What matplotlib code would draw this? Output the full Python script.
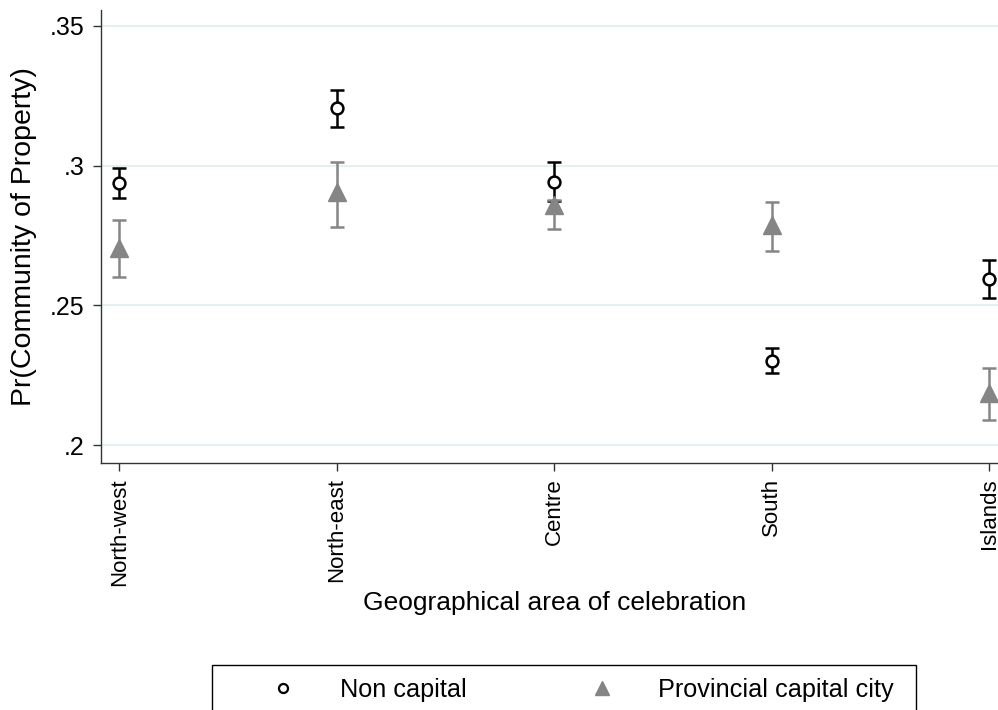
import matplotlib
matplotlib.use("Agg")
import matplotlib.pyplot as plt
from matplotlib.patches import Rectangle
import numpy as np

# Valeurs
areas = ["North-west", "North-east", "Centre", "South", "Islands"]
non_cap = [0.2939, 0.3207, 0.2943, 0.2299, 0.2593]
non_cap_lo = [0.2886, 0.3139, 0.2874, 0.2257, 0.2525]
non_cap_hi = [0.2993, 0.3271, 0.3012, 0.2346, 0.2661]
prov_cap = [0.2704, 0.2905, 0.2860, 0.2786, 0.2186]
prov_cap_lo = [0.2600, 0.2782, 0.2775, 0.2696, 0.2089]
prov_cap_hi = [0.2806, 0.3012, 0.2878, 0.2871, 0.2275]
yticks = [0.2, 0.25, 0.3, 0.35]
ytick_labels = [".2", ".25", ".3", ".35"]

plt.rcParams["font.family"] = ["Liberation Sans", "DejaVu Sans"]

W, H = 998, 710
fig = plt.figure(figsize=(W / 100, H / 100), dpi=100)
ax = fig.add_axes([0.1012, 0.3479, 0.8988, 0.638])

x = np.arange(1, len(areas) + 1)
black = "black"
gray = "#858585"

nc = np.array(non_cap)
pc = np.array(prov_cap)
nc_err = [nc - np.array(non_cap_lo), np.array(non_cap_hi) - nc]
pc_err = [pc - np.array(prov_cap_lo), np.array(prov_cap_hi) - pc]

ax.errorbar(x, nc, yerr=nc_err, fmt="none", ecolor=black, elinewidth=1.8,
            capsize=5.2, capthick=1.8, zorder=3)
ax.errorbar(x, pc, yerr=pc_err, fmt="none", ecolor=gray, elinewidth=1.8,
            capsize=5.2, capthick=1.8, zorder=4)
ax.plot(x, pc, linestyle="none", marker="^", markersize=12.5, color=gray,
        markeredgecolor=gray, zorder=5)
ax.plot(x, nc, linestyle="none", marker="o", markersize=8.5,
        markerfacecolor="white", markeredgecolor=black, markeredgewidth=1.8,
        zorder=6)

# Grille horizontale
for yv in yticks:
    ax.axhline(yv, color="#e6eff1", linewidth=1.6, zorder=1)

ax.set_xlim(0.916, 5.041)
ax.set_ylim(0.19357, 0.35571)
ax.set_xticks(x)
ax.set_xticklabels(areas, rotation=90, fontsize=16)
ax.set_yticks(yticks)
ax.set_yticklabels(ytick_labels, fontsize=18)
ax.tick_params(axis="both", length=6, width=1, color="#333333")
ax.tick_params(axis="y", pad=6)
ax.tick_params(axis="x", pad=5)

for side in ["top", "right"]:
    ax.spines[side].set_visible(False)
for side in ["left", "bottom"]:
    ax.spines[side].set_color("#333333")
    ax.spines[side].set_linewidth(1)

ax.set_ylabel("Pr(Community of Property)", fontsize=20.5)
ax.yaxis.set_label_coords(-0.0713, 0.5)
ax.set_xlabel("Geographical area of celebration", fontsize=19)
ax.xaxis.set_label_coords(0.5056, -0.283)

# Légende en bas : cadre dessiné à part, clé sans cadre
fig.patches.append(Rectangle((212 / W, -0.05), (916 - 212) / W,
                             0.05 + 1 - 665 / H, transform=fig.transFigure,
                             fill=False, edgecolor="black", linewidth=1))
h1 = plt.Line2D([], [], linestyle="none", marker="o", markersize=6.5,
                markerfacecolor="white", markeredgecolor=black,
                markeredgewidth=1.6)
h2 = plt.Line2D([], [], linestyle="none", marker="^", markersize=10,
                color=gray)
fig.legend([h1, h2], ["Non capital", "Provincial capital city"],
           loc="center left", bbox_to_anchor=(270 / W, 1 - 690 / H), ncol=2,
           fontsize=18.2, frameon=False, handletextpad=1.75,
           columnspacing=4.85, borderpad=0, borderaxespad=0, handlelength=1.0)

fig.savefig("out.png", dpi=100)
